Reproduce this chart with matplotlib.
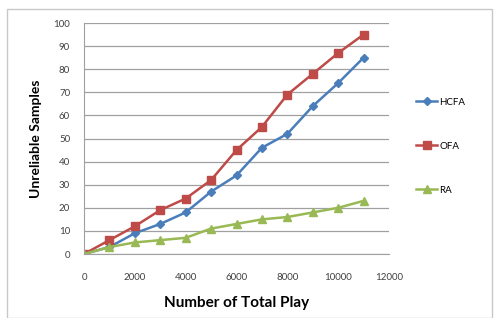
import matplotlib
matplotlib.use("Agg")
import matplotlib.pyplot as plt
from matplotlib.patches import Rectangle

plays = [0, 1000, 2000, 3000, 4000, 5000, 6000, 7000, 8000, 9000, 10000, 11000]
hcfa = [0, 3, 9, 13, 18, 27, 34, 46, 52, 64, 74, 85]
ofa = [0, 6, 12, 19, 24, 32, 45, 55, 69, 78, 87, 95]
ra = [0, 3, 5, 6, 7, 11, 13, 15, 16, 18, 20, 23]

plt.rcParams['font.family'] = ['Lato', 'DejaVu Sans']

fig = plt.figure(figsize=(5.0, 3.18), dpi=100)
fig.patches.append(Rectangle((7 / 500, 0), 485 / 500, 1 - 9 / 318, transform=fig.transFigure,
                             fill=False, edgecolor='#c8c8c8', linewidth=1.0))
ax = fig.add_axes([84 / 500, 1 - 254 / 318, 305 / 500, 231 / 318])

ax.plot(plays, hcfa, color='#4a7ebb', marker='D', markersize=4, linewidth=1.8, label='HCFA')
ax.plot(plays, ofa, color='#be4b48', marker='s', markersize=6, linewidth=1.8, label='OFA')
ax.plot(plays, ra, color='#98b954', marker='^', markersize=6, linewidth=1.8, label='RA')

ax.set_xlim(0, 12000)
ax.set_ylim(0, 100)
ax.set_xticks(range(0, 12001, 2000))
ax.set_yticks(range(0, 101, 10))
ax.grid(axis='y', color='#a0a0a0', linewidth=0.9)
ax.set_axisbelow(True)
for s in ['top', 'right']:
    ax.spines[s].set_visible(False)
ax.spines['left'].set_color('#a0a0a0')
ax.spines['bottom'].set_color('#a0a0a0')
ax.tick_params(length=0, labelsize=7, colors='#404040')
ax.tick_params(axis='x', pad=14)
ax.tick_params(axis='y', pad=10)

ax.set_xlabel('Number of Total Play', fontsize=11, fontweight='bold', labelpad=10)
ax.set_ylabel('Unreliable Samples', fontsize=10, fontweight='bold', labelpad=8)

ax.legend(loc='center left', bbox_to_anchor=(1.06, 0.467), frameon=False, fontsize=7,
          labelspacing=3.6, handlelength=2.2, handletextpad=0.2)

fig.savefig('out.png', dpi=100)
